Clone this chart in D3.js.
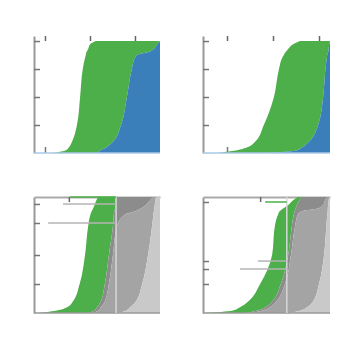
<!DOCTYPE html>
<html>
<head>
<meta charset="utf-8">
<script src="https://cdn.jsdelivr.net/npm/d3@7"></script>
<style>
  body { margin: 0; background: #fff; }
</style>
</head>
<body>
<div id="chart"></div>
<script>
// cumulative fraction levels, each series gives the x (log10 units) reached at that level
const levels = [0, 0.02, 0.05, 0.1, 0.25, 0.5, 0.75, 0.85, 0.88, 0.9, 0.93, 0.97, 1];

const tlGreen = [0.16, 0.44, 0.53, 0.6, 0.71, 0.78, 0.84, 0.89, 0.91, 0.92, 0.96, 1.0, 1.13];
const tlBlue = [1.16, 1.22, 1.36, 1.51, 1.69, 1.82, 1.93, 2.0, 2.07, 2.29, 2.42, 2.49, 2.56];

const trGreen = [-0.2, 0.15, 0.43, 0.61, 0.8, 1.02, 1.13, 1.2, 1.24, 1.27, 1.33, 1.43, 1.59];
const trBlue = [0.89, 1.48, 1.63, 1.78, 1.98, 2.09, 2.14, 2.17, 2.18, 2.2, 2.21, 2.22, 2.24];

const blGreen = [-0.16, 0.24, 0.49, 0.62, 0.77, 0.89, 0.96, 1.01, 1.04, 1.07, 1.1, 1.14, 1.18];
const blGreenEnd = [0.96, 1.09, 1.16, 1.24, 1.33, 1.42, 1.51, 1.53, 1.54, 1.56, 1.56, 1.57, 1.58];
const blDark = [1.04, 1.18, 1.24, 1.33, 1.42, 1.51, 1.6, 1.78, 2.02, 2.13, 2.24, 2.33, 2.4];
const blMid = [1.62, 1.8, 1.89, 2.02, 2.16, 2.29, 2.38, 2.41, 2.42, 2.43, 2.44, 2.45, 2.47];

const brGreen = [-0.52, 0.11, 0.28, 0.46, 0.72, 0.98, 1.04, 1.11, 1.15, 1.22, 1.33, 1.43, 1.54];
const brGreenEnd = [0.39, 0.65, 0.83, 0.98, 1.17, 1.33, 1.41, 1.45, 1.47, 1.49, 1.52, 1.57, 1.63];
const brDark = [0.5, 0.76, 0.93, 1.07, 1.26, 1.39, 1.48, 1.54, 1.65, 1.98, 2.09, 2.13, 2.17];
const brMid = [1.33, 1.59, 1.74, 1.87, 2.0, 2.11, 2.16, 2.18, 2.19, 2.19, 2.2, 2.21, 2.22];

const xTicks = [0, 1, 2];
const topYTicks = [0.25, 0.5, 0.75, 1];

// annotations on the lower panels
const blCut = 1.58;
const blMarks = [{ p: 0.94, from: 0.4 }, { p: 0.776, from: 0.07 }];
const blYTicks = [0.25, 0.5, 0.776, 0.94];
const blTopTick = 0.53;
const blGreenLine = { p: 1, from: 0.56 };

const brCut = 1.3;
const brMarks = [{ p: 0.448, from: 0.67 }, { p: 0.379, from: 0.28 }];
const brYTicks = [0.25, 0.379, 0.448, 0.957];
const brTopTick = 0.72;
const brGreenLine = { p: 0.957, from: 0.83 };

const green = '#4daf4a';
const blue = '#3a7fba';
const grays = ['#8c8c8c', '#a4a4a4', '#c9c9c9'];

const svg = d3.select('#chart').append('svg')
  .attr('width', 349).attr('height', 349);

const panels = [
  { left: 34, right: 160, domain: [-0.244, 2.556], curves: [tlGreen, tlBlue], fills: [green, blue], top: true },
  { left: 203, right: 330, domain: [-0.522, 2.239], curves: [trGreen, trBlue], fills: [green, blue], top: true },
  { left: 34, right: 160, domain: [-0.244, 2.556], curves: [blGreen, blGreenEnd, blDark, blMid],
    fills: [green].concat(grays), top: false,
    cut: blCut, marks: blMarks, yTicks: blYTicks, topTick: blTopTick, gline: blGreenLine },
  { left: 203, right: 330, domain: [-0.522, 2.239], curves: [brGreen, brGreenEnd, brDark, brMid],
    fills: [green].concat(grays), top: false,
    cut: brCut, marks: brMarks, yTicks: brYTicks, topTick: brTopTick, gline: brGreenLine },
];

panels.forEach((pn) => {
  const x = d3.scaleLinear().domain(pn.domain).range([pn.left, pn.right]);
  const y = pn.top
    ? d3.scaleLinear().domain([0, 1.045]).range([153, 36])
    : d3.scaleLinear().domain([0, 1]).range([313, 197]);
  const g = svg.append('g');

  // axes
  const yAxis = d3.axisLeft(y)
    .tickValues(pn.top ? topYTicks : pn.yTicks)
    .tickSizeInner(-6).tickSizeOuter(0).tickFormat('');
  const topAxis = d3.axisTop(x)
    .tickValues(pn.top ? xTicks : [pn.topTick])
    .tickSizeInner(-5).tickSizeOuter(0).tickFormat('');
  const gy = g.append('g').attr('transform', `translate(${pn.left},0)`).call(yAxis);
  const gt = g.append('g').attr('transform', `translate(0,${y.range()[1]})`).call(topAxis);
  gy.select('.domain').attr('stroke', '#999').attr('stroke-width', 2);
  gy.selectAll('.tick line').attr('stroke', '#777').attr('stroke-width', 1.5);
  gt.selectAll('.tick line').attr('stroke', '#666').attr('stroke-width', 1.5);
  if (pn.top) {
    gt.select('.domain').remove();
    const gb = g.append('g').attr('transform', 'translate(0,153)')
      .call(d3.axisBottom(x).tickValues(xTicks).tickSizeInner(-6).tickSizeOuter(0).tickFormat(''));
    gb.select('.domain').remove();
    gb.selectAll('.tick line').attr('stroke', '#777').attr('stroke-width', 1.5);
  } else {
    gt.select('.domain').attr('stroke', '#aaa').attr('stroke-width', 2);
  }

  // stacked regions between successive curves
  const rows = levels.map((p, i) => {
    const r = { p: p };
    pn.curves.forEach((c, k) => { r['c' + k] = c[i]; });
    r['c' + pn.curves.length] = pn.domain[1];
    return r;
  });
  pn.curves.forEach((c, k) => {
    const area = d3.area()
      .curve(d3.curveMonotoneY)
      .y((d) => y(d.p))
      .x0((d) => x(d['c' + k]))
      .x1((d) => x(d['c' + (k + 1)]));
    g.append('path').datum(rows).attr('d', area).attr('fill', pn.fills[k]);
  });

  if (pn.top) {
    g.append('line')
      .attr('x1', pn.left).attr('x2', pn.right)
      .attr('y1', y(0)).attr('y2', y(0))
      .attr('stroke', '#a9c9e8').attr('stroke-width', 1.5);
    return;
  }

  g.append('line')
    .attr('x1', pn.left).attr('x2', pn.right)
    .attr('y1', y(0)).attr('y2', y(0))
    .attr('stroke', '#999').attr('stroke-width', 1.5);

  g.append('line')
    .attr('x1', x(pn.cut)).attr('x2', x(pn.cut))
    .attr('y1', y(1)).attr('y2', y(0))
    .attr('stroke', '#d8d8d8').attr('stroke-width', 1.5);

  g.selectAll('.mark')
    .data(pn.marks)
    .enter()
    .append('line')
    .attr('x1', (d) => x(d.from)).attr('x2', x(pn.cut))
    .attr('y1', (d) => y(d.p)).attr('y2', (d) => y(d.p))
    .attr('stroke', '#b4b4b4').attr('stroke-width', 1.5);

  g.append('line')
    .attr('x1', x(pn.gline.from)).attr('x2', x(pn.cut))
    .attr('y1', y(pn.gline.p)).attr('y2', y(pn.gline.p))
    .attr('stroke', green).attr('stroke-width', 1.5);
});
</script>
</body>
</html>
